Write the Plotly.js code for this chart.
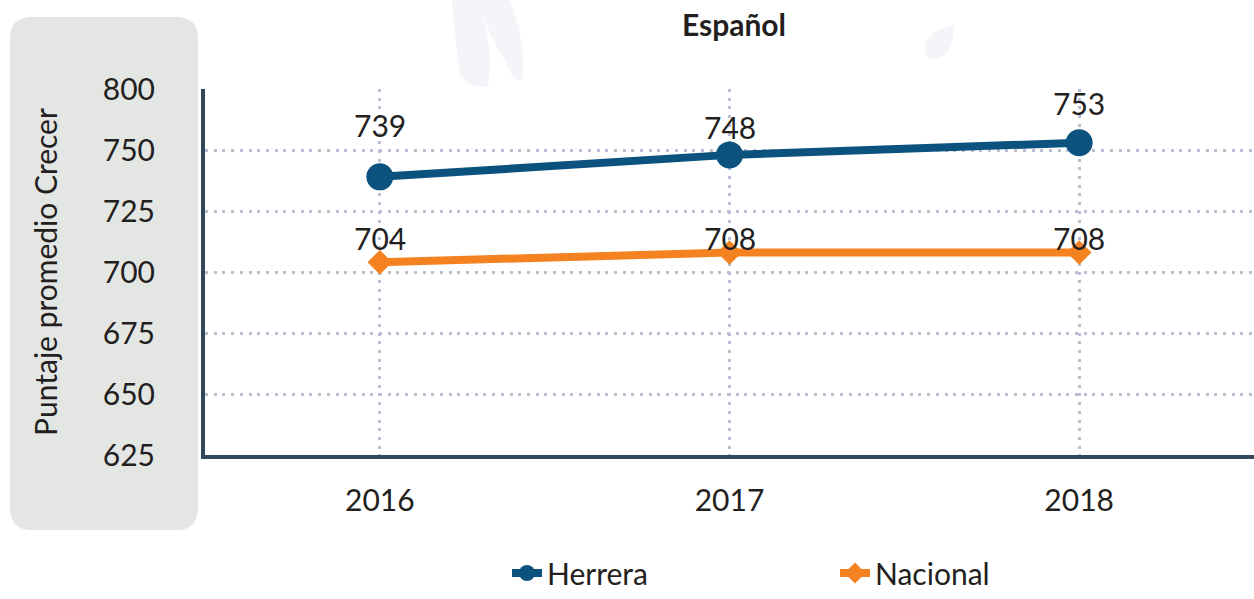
<!DOCTYPE html>
<html>
<head>
<meta charset="utf-8">
<script src="https://cdn.plot.ly/plotly-3.0.1.min.js"></script>
<style>
  html, body { margin: 0; padding: 0; background: #ffffff; }
  #chart { width: 1254px; height: 599px; }
</style>
</head>
<body>
<div id="chart"></div>
<script>
// ---- data ----
const years = ['2016', '2017', '2018'];
const herrera = [739, 748, 753];
const nacional = [704, 708, 708];
const yTickValues = [625, 650, 675, 700, 725, 750, 775];
const yTickLabels = ['625', '650', '675', '700', '725', '750', '800'];
const chartTitle = 'Español';
const yTitle = 'Puntaje promedio Crecer';

// ---- style ----
const FONT = 'Lato, "Open Sans", sans-serif';
const FS = 30;
const TXT = '#231f20';
const BLUE = '#0c527f';
const ORANGE = '#f58220';
const GRID = '#b9c0d4';
const AXIS = '#33475b';
const L = 205, R = 1254, T = 89, B = 455;
const W = 1254, H = 599;
const px = x => (x - L) / (R - L);
const py = y => (B - y) / (B - T);

// label offsets (pixels above the point)
const herreraShift = [52, 28, 40];
const nacionalShift = [24, 14, 14];

function roundRect(x0, y0, x1, y1, r) {
  const p = (x, y) => px(x) + ',' + py(y);
  return 'M' + p(x0 + r, y0) +
    ' L' + p(x1 - r, y0) + ' Q' + p(x1, y0) + ' ' + p(x1, y0 + r) +
    ' L' + p(x1, y1 - r) + ' Q' + p(x1, y1) + ' ' + p(x1 - r, y1) +
    ' L' + p(x0 + r, y1) + ' Q' + p(x0, y1) + ' ' + p(x0, y1 - r) +
    ' L' + p(x0, y0 + r) + ' Q' + p(x0, y0) + ' ' + p(x0 + r, y0) + ' Z';
}

const traces = [
  {
    type: 'scatter', mode: 'lines+markers', name: 'Herrera',
    x: years, y: herrera,
    line: { color: BLUE, width: 8 },
    marker: { color: BLUE, size: 27, symbol: 'circle' },
    hoverinfo: 'x+y'
  },
  {
    type: 'scatter', mode: 'lines+markers', name: 'Nacional',
    x: years, y: nacional,
    line: { color: ORANGE, width: 8 },
    marker: { color: ORANGE, size: 19, symbol: 'diamond' },
    hoverinfo: 'x+y'
  }
];

const annotations = [];
herrera.forEach((v, i) => annotations.push({
  x: i, y: v, xref: 'x', yref: 'y', text: String(v), showarrow: false,
  xanchor: 'center', yanchor: 'middle',
  yshift: herreraShift[i], font: { family: FONT, size: FS, color: TXT }
}));
nacional.forEach((v, i) => annotations.push({
  x: i, y: v, xref: 'x', yref: 'y', text: String(v), showarrow: false,
  xanchor: 'center', yanchor: 'middle',
  yshift: nacionalShift[i], font: { family: FONT, size: FS, color: TXT }
}));

const leaf = '#f3f5f8';
const layout = {
  width: W, height: H,
  margin: { l: L, r: W - R, t: T, b: H - B, pad: 0, autoexpand: false },
  paper_bgcolor: '#ffffff', plot_bgcolor: 'rgba(0,0,0,0)',
  font: { family: FONT, size: FS, color: TXT },
  title: {
    text: '<b>' + chartTitle + '</b>',
    font: { family: FONT, size: FS, color: TXT },
    x: px(734), xref: 'paper', xanchor: 'center',
    y: 1 - 25 / H, yref: 'container', yanchor: 'middle'
  },
  xaxis: {
    type: 'category', range: [-0.5, 2.5],
    showgrid: true, gridcolor: GRID, gridwidth: 3, griddash: '3px,5.7px',
    showline: true, linecolor: AXIS, linewidth: 4,
    ticks: '', ticklabelstandoff: 16,
    tickfont: { family: FONT, size: FS, color: TXT },
    zeroline: false, fixedrange: true
  },
  yaxis: {
    range: [625, 775],
    tickmode: 'array', tickvals: yTickValues, ticktext: yTickLabels,
    showgrid: true, gridcolor: GRID, gridwidth: 3, griddash: '3px,5.7px',
    showline: true, linecolor: AXIS, linewidth: 4,
    ticks: '', ticklabelstandoff: 40,
    tickfont: { family: FONT, size: FS, color: TXT },
    zeroline: false, fixedrange: true,
    title: { text: yTitle, font: { family: FONT, size: FS, color: TXT }, standoff: 37 }
  },
  showlegend: true,
  legend: {
    orientation: 'h', x: px(507), xanchor: 'left', y: py(599), yanchor: 'bottom',
    font: { family: FONT, size: FS, color: TXT },
    entrywidth: 283, bgcolor: 'rgba(0,0,0,0)'
  },
  shapes: [
    {
      type: 'path', xref: 'paper', yref: 'paper', layer: 'below',
      path: roundRect(10, 17, 198, 530, 22),
      fillcolor: '#e4e6e4', line: { width: 0 }
    },
    {
      type: 'path', xref: 'paper', yref: 'paper', layer: 'below',
      path: 'M' + px(452) + ',' + py(0) + ' Q' + px(455) + ',' + py(40) + ' ' + px(460) + ',' + py(75) +
        ' Q' + px(470) + ',' + py(90) + ' ' + px(488) + ',' + py(86) +
        ' Q' + px(495) + ',' + py(50) + ' ' + px(478) + ',' + py(0) + ' Z',
      fillcolor: leaf, line: { width: 0 }
    },
    {
      type: 'path', xref: 'paper', yref: 'paper', layer: 'below',
      path: 'M' + px(478) + ',' + py(0) + ' Q' + px(490) + ',' + py(40) + ' ' + px(505) + ',' + py(60) +
        ' Q' + px(515) + ',' + py(85) + ' ' + px(522) + ',' + py(80) +
        ' Q' + px(528) + ',' + py(50) + ' ' + px(510) + ',' + py(0) + ' Z',
      fillcolor: leaf, line: { width: 0 }
    },
    {
      type: 'path', xref: 'paper', yref: 'paper', layer: 'below',
      path: 'M' + px(954) + ',' + py(25) + ' Q' + px(930) + ',' + py(30) + ' ' + px(925) + ',' + py(45) +
        ' Q' + px(925) + ',' + py(60) + ' ' + px(935) + ',' + py(59) +
        ' Q' + px(955) + ',' + py(55) + ' ' + px(954) + ',' + py(25) + ' Z',
      fillcolor: leaf, line: { width: 0 }
    }
  ],
  annotations: annotations,
  hovermode: 'closest'
};

Plotly.newPlot('chart', traces, layout, { displayModeBar: false, responsive: false });
</script>
</body>
</html>
